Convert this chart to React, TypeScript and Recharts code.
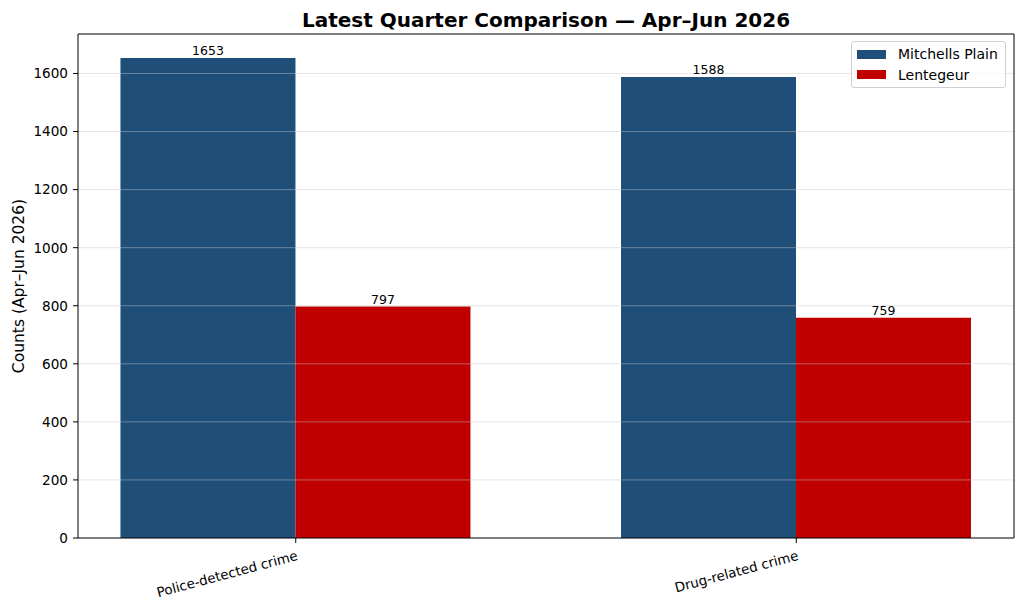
import React from 'react';
import {
  BarChart,
  Bar,
  XAxis,
  YAxis,
  LabelList,
  ReferenceLine,
} from 'recharts';

const categories = ['Police-detected crime', 'Drug-related crime'];
const mitchellsPlain = [1653, 1588];
const lentegeur = [797, 759];
const yTicks = [0, 200, 400, 600, 800, 1000, 1200, 1400, 1600];
const seriesNames = ['Mitchells Plain', 'Lentegeur'];

const BLUE = '#1f4e79';
const RED = '#c00000';
const FONT = '"DejaVu Sans", sans-serif';

const data = categories.map((name, i) => ({
  x: i,
  name,
  mp: mitchellsPlain[i],
  lg: lentegeur[i],
}));

const X_DOMAIN: [number, number] = [-0.435, 1.435];
const Y_MAX = 1736;

function RotatedTick(props: any) {
  const { x, y, payload } = props;
  return (
    <g transform={`translate(${x},${y + 2})`}>
      <text
        x={0}
        y={0}
        dy={11}
        textAnchor="end"
        transform="rotate(-15)"
        fontSize={13.4}
        fontFamily={FONT}
        fill="#000"
      >
        {categories[payload.value]}
      </text>
    </g>
  );
}

function LegendBox() {
  const items = [
    { label: seriesNames[0], color: BLUE },
    { label: seriesNames[1], color: RED },
  ];
  return (
    <div
      style={{
        position: 'absolute',
        top: 41,
        left: 851,
        width: 155,
        height: 47,
        boxSizing: 'border-box',
        border: '1px solid #d0d0d0',
        borderRadius: 3,
        background: 'rgba(255,255,255,0.8)',
        padding: '2px 0 0 5px',
        fontFamily: FONT,
        fontSize: 14,
        color: '#000',
      }}
    >
      {items.map((it) => (
        <div key={it.label} style={{ display: 'flex', alignItems: 'center', height: 20.5 }}>
          <span
            style={{
              display: 'inline-block',
              width: 29,
              height: 9,
              background: it.color,
              marginRight: 12,
            }}
          />
          {it.label}
        </div>
      ))}
    </div>
  );
}

export default function App() {
  return (
    <div style={{ position: 'absolute', left: 0, top: 0, width: 1024, height: 608, background: '#fff' }}>
      <BarChart
        width={1024}
        height={608}
        data={data}
        margin={{ top: 34, right: 10, left: 8, bottom: 0 }}
        barGap={0}
        barSize={175}
      >
        <XAxis
          dataKey="x"
          type="number"
          domain={X_DOMAIN}
          ticks={[0, 1]}
          allowDataOverflow
          height={70}
          tick={<RotatedTick />}
          tickSize={5}
          tickMargin={4}
          axisLine={{ stroke: '#000' }}
          tickLine={{ stroke: '#000' }}
          interval={0}
        />
        <YAxis
          type="number"
          domain={[0, Y_MAX]}
          ticks={yTicks}
          allowDataOverflow
          width={70}
          tickSize={5}
          tickMargin={5}
          tick={{ fontSize: 13.6, fill: '#000', fontFamily: FONT }}
          axisLine={{ stroke: '#000' }}
          tickLine={{ stroke: '#000' }}
          label={{
            value: 'Counts (Apr–Jun 2026)',
            angle: -90,
            position: 'insideLeft',
            offset: 10,
            style: { textAnchor: 'middle', fontSize: 15.5, fill: '#000', fontFamily: FONT },
          }}
        />
        <Bar dataKey="mp" fill={BLUE} isAnimationActive={false}>
          <LabelList dataKey="mp" position="top" offset={3} fill="#000" fontSize={12.5} fontFamily={FONT} />
        </Bar>
        <Bar dataKey="lg" fill={RED} isAnimationActive={false}>
          <LabelList dataKey="lg" position="top" offset={3} fill="#000" fontSize={12.5} fontFamily={FONT} />
        </Bar>
        {yTicks.slice(1).map((t) => (
          <ReferenceLine key={t} y={t} stroke="#c8c8c8" strokeOpacity={0.45} />
        ))}
        <ReferenceLine y={Y_MAX} stroke="#000" />
        <ReferenceLine x={X_DOMAIN[1]} stroke="#000" />
      </BarChart>
      <div
        style={{
          position: 'absolute',
          left: 78,
          width: 936,
          top: 8,
          lineHeight: 'normal',
          textAlign: 'center',
          fontFamily: FONT,
          fontWeight: 'bold',
          fontSize: 20,
          color: '#000',
        }}
      >
        Latest Quarter Comparison — Apr–Jun 2026
      </div>
      <LegendBox />
    </div>
  );
}
